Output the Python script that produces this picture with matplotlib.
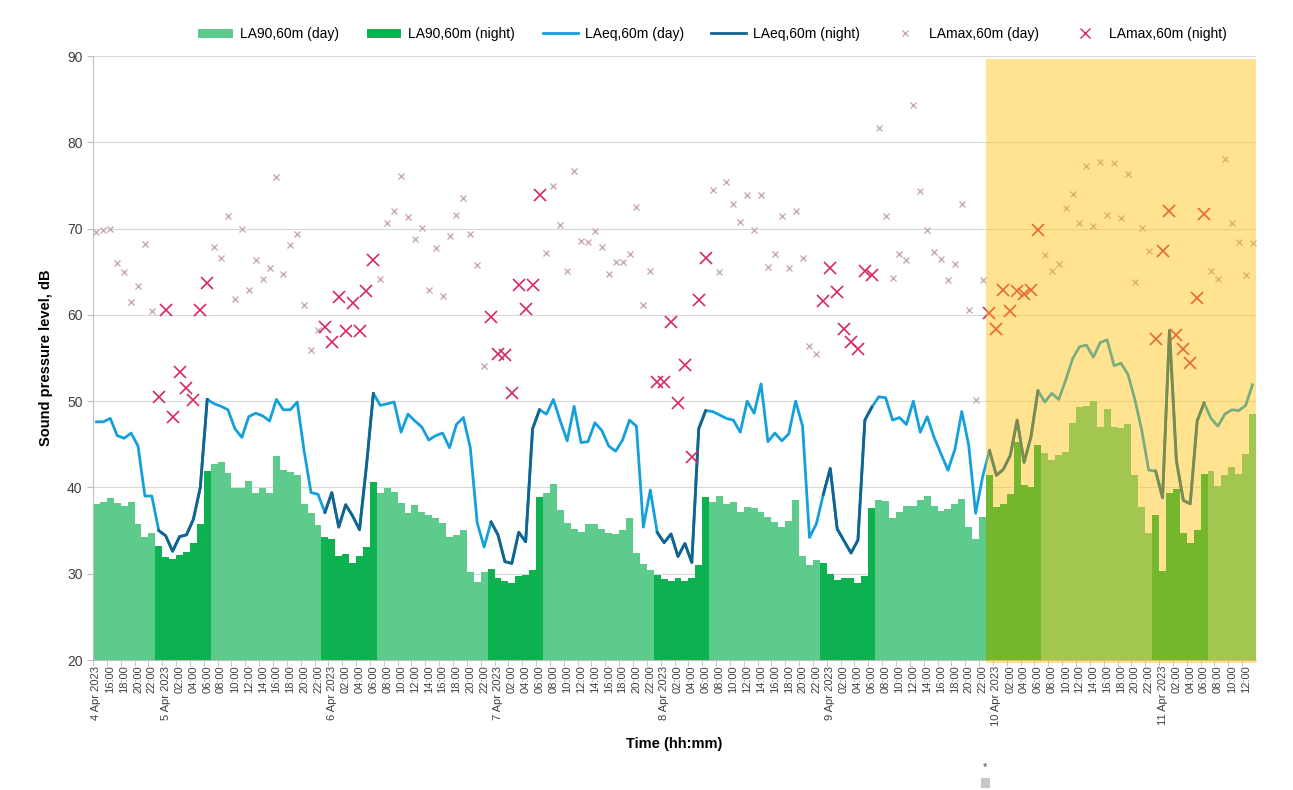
import numpy as np
import pandas as pd
import matplotlib
matplotlib.use("Agg")
import matplotlib.pyplot as plt
from matplotlib.patches import Patch, Rectangle
from matplotlib.lines import Line2D

plt.rcParams['font.family'] = ['Liberation Sans', 'DejaVu Sans']

# hourly data, 4 Apr 2023 14:00 -> 11 Apr 2023 13:00
start = '2023-04-04 14:00'

la90 = [
    38.1, 38.3, 38.8, 38.2, 37.8, 38.3, 35.8, 34.2, 34.7,
    33.2, 31.9, 31.7, 32.2, 32.5, 33.6, 35.8, 41.9,
    42.7, 42.9, 41.7, 39.9, 39.9, 40.7, 39.3, 39.9, 39.3, 43.6, 42.0, 41.8, 41.4, 38.1, 37.0, 35.6,
    34.3, 34.0, 32.1, 32.3, 31.2, 32.0, 33.1, 40.6,
    39.4, 39.9, 39.5, 38.2, 37.0, 38.0, 37.2, 36.8, 36.4, 35.9, 34.3, 34.5, 35.1, 30.2, 29.0, 30.2,
    30.5, 29.5, 29.1, 28.9, 29.7, 29.8, 30.4, 38.9,
    39.4, 40.4, 37.4, 35.9, 35.2, 34.8, 35.8, 35.8, 35.2, 34.7, 34.6, 35.1, 36.5, 32.4, 31.1, 30.4,
    29.9, 29.4, 29.2, 29.5, 29.1, 29.5, 31.0, 38.9,
    38.3, 39.0, 38.1, 38.3, 37.2, 37.7, 37.6, 37.1, 36.6, 36.0, 35.4, 36.1, 38.6, 32.1, 31.0, 31.6,
    31.2, 30.0, 29.3, 29.5, 29.5, 28.9, 29.7, 37.6,
    38.6, 38.4, 36.5, 37.2, 37.8, 37.9, 38.6, 39.0, 37.9, 37.3, 37.5, 38.1, 38.7, 35.4, 34.0, 36.6,
    41.4, 37.7, 38.1, 39.2, 45.3, 40.3, 40.1, 44.9,
    44.0, 43.2, 43.8, 44.1, 47.5, 49.3, 49.4, 50.0, 47.0, 49.1, 47.0, 46.9, 47.3, 41.4, 37.7, 34.7,
    36.8, 30.3, 39.3, 39.8, 34.7, 33.6, 35.1, 41.5,
    41.9, 40.2, 41.4, 42.4, 41.6, 43.9, 48.5,
]

laeq = [
    47.6, 47.6, 48.0, 46.0, 45.7, 46.3, 44.8, 39.0, 39.0,
    35.0, 34.4, 32.6, 34.3, 34.5, 36.3, 40.0, 50.2,
    49.7, 49.4, 49.0, 46.8, 45.8, 48.2, 48.6, 48.3, 47.7, 50.2, 49.0, 49.0, 49.9, 44.2, 39.4, 39.2,
    37.1, 39.4, 35.4, 38.0, 36.7, 35.1, 42.5, 50.9,
    49.5, 49.7, 49.9, 46.4, 48.5, 47.7, 47.0, 45.5, 46.0, 46.3, 44.6, 47.3, 48.1, 44.6, 35.9, 33.1,
    36.0, 34.5, 31.4, 31.2, 34.8, 33.7, 46.8, 49.0,
    48.5, 50.2, 47.7, 45.4, 49.4, 45.2, 45.3, 47.5, 46.6, 44.8, 44.2, 45.5, 47.8, 47.1, 35.4, 39.7,
    34.8, 33.6, 34.6, 32.0, 33.5, 31.3, 46.8, 48.9,
    48.8, 48.4, 48.0, 47.8, 46.4, 50.0, 48.6, 52.0, 45.3, 46.3, 45.4, 46.2, 50.0, 47.1, 34.2, 35.8,
    39.2, 42.2, 35.2, 33.8, 32.4, 33.9, 47.8, 49.3,
    50.5, 50.4, 47.8, 48.1, 47.3, 50.0, 46.4, 48.2, 45.8, 43.9, 42.0, 44.4, 48.8, 44.9, 37.0, 41.2,
    44.3, 41.4, 42.1, 43.7, 47.8, 42.9, 45.9, 51.2,
    49.9, 50.9, 50.2, 52.4, 54.9, 56.3, 56.5, 55.1, 56.8, 57.1, 54.1, 54.4, 53.1, 50.2, 46.6, 42.0,
    41.9, 38.8, 58.2, 43.1, 38.5, 38.1, 47.7, 49.8,
    48.0, 47.1, 48.5, 49.0, 48.9, 49.5, 51.9,
]

lamax = [
    69.6, 69.8, 69.9, 66.0, 65.0, 61.5, 63.4, 68.2, 60.4,
    50.5, 60.6, 48.2, 53.4, 51.5, 50.1, 60.6, 63.7,
    67.9, 66.6, 71.4, 61.8, 70.0, 62.9, 66.3, 64.2, 65.4, 76.0, 64.7, 68.1, 69.4, 61.2, 55.9, 58.3,
    58.6, 56.8, 62.1, 58.1, 61.4, 58.1, 62.8, 66.4,
    64.2, 70.7, 72.0, 76.1, 71.3, 68.8, 70.1, 62.9, 67.7, 62.2, 69.1, 71.6, 73.6, 69.4, 65.8, 54.1,
    59.7, 55.5, 55.3, 51.0, 63.5, 60.7, 63.5, 73.9,
    67.2, 74.9, 70.4, 65.1, 76.7, 68.6, 68.4, 69.7, 67.9, 64.7, 66.1, 66.1, 67.1, 72.5, 61.1, 65.1,
    52.2, 52.2, 59.2, 49.8, 54.2, 43.5, 61.7, 66.6,
    74.5, 65.0, 75.4, 72.8, 70.8, 73.9, 69.8, 73.9, 65.5, 67.1, 71.5, 65.4, 72.0, 66.6, 56.4, 55.5,
    61.6, 65.4, 62.6, 58.4, 56.9, 56.1, 65.1, 64.6,
    81.7, 71.4, 64.3, 67.1, 66.3, 84.3, 74.3, 69.8, 67.3, 66.5, 64.0, 65.9, 72.9, 60.6, 50.1, 64.0,
    60.2, 58.4, 62.9, 60.4, 62.8, 62.4, 62.9, 69.8,
    66.9, 65.1, 65.9, 72.4, 74.0, 70.7, 77.2, 70.3, 77.7, 71.6, 77.6, 71.2, 76.3, 63.8, 70.1, 67.4,
    57.2, 67.4, 72.0, 57.7, 56.0, 54.4, 62.0, 71.7,
    65.1, 64.2, 78.1, 70.6, 68.4, 64.6, 68.3,
]

highlight_start = '2023-04-09 23:00'   # shaded period to end of record

c_day_bar = '#5ccb8b'
c_night_bar = '#0db14f'
c_day_line = '#14a0dc'
c_night_line = '#14638f'
c_day_max = '#c8aab6'
c_night_max = '#d62a60'

times = pd.date_range(start, periods=len(la90), freq='h')
x = np.arange(len(times))
hrs = times.hour
night = (hrs >= 23) | (hrs < 7)
la90 = np.array(la90)
laeq = np.array(laeq)
lamax = np.array(lamax)

fig = plt.figure(figsize=(12.93, 7.90), dpi=100)
ax = fig.add_axes([93/1293, 1-660/790, (1256-93)/1293, (660-56)/790])

ax.bar(x[~night], la90[~night] - 20, bottom=20, width=1.0, color=c_day_bar, linewidth=0, zorder=2)
ax.bar(x[night], la90[night] - 20, bottom=20, width=1.0, color=c_night_bar, linewidth=0, zorder=2)

ax.plot(x, laeq, color=c_day_line, lw=2.0, zorder=3)
ax.plot(x, np.where(night, laeq, np.nan), color=c_night_line, lw=2.0, zorder=3)

ax.plot(x[~night], lamax[~night], 'x', color=c_day_max, ms=5, mew=1.0, zorder=4)
ax.plot(x[night], lamax[night], 'x', color=c_night_max, ms=8.5, mew=1.2, zorder=4)

# shaded period overlay
h0 = int(np.where(times == pd.Timestamp(highlight_start))[0][0])
ax.add_patch(Rectangle((h0 - 0.5, 19.6), len(x) - h0, 89.6 - 19.6, facecolor='#ffc000',
                       alpha=0.43, lw=0, zorder=6, clip_on=False))

ax.set_xlim(-0.5, len(x) - 0.5)
ax.set_ylim(20, 90)
ax.set_yticks(range(20, 91, 10))
ax.yaxis.grid(True, color='#d9d9d9', lw=0.8)
ax.set_axisbelow(True)
for s in ['top', 'right']:
    ax.spines[s].set_visible(False)
for s in ['left', 'bottom']:
    ax.spines[s].set_color('#bfbfbf')

tick_idx = x[::2]
labels = []
for i in tick_idx:
    t = times[i]
    if i == 0 or t.hour == 0:
        labels.append(f"{t.day} Apr {t.year}")
    else:
        labels.append(t.strftime('%H:%M'))
ax.set_xticks(tick_idx)
ax.set_xticklabels(labels, rotation=90, fontsize=8, color='#404040')
ax.tick_params(axis='x', length=0, pad=4)
ax.set_xticks(tick_idx - 0.5, minor=True)
ax.tick_params(axis='x', which='minor', length=4, color='#bfbfbf')
ax.tick_params(axis='y', labelsize=10, length=4, color='#bfbfbf', labelcolor='#404040')

ax.set_ylabel('Sound pressure level, dB', fontsize=10.5, fontweight='bold', labelpad=10)
ax.set_xlabel('Time (hh:mm)', fontsize=10.5, fontweight='bold', labelpad=8)

handles = [
    Patch(facecolor=c_day_bar, lw=0),
    Patch(facecolor=c_night_bar, lw=0),
    Line2D([], [], color=c_day_line, lw=2),
    Line2D([], [], color=c_night_line, lw=2),
    Line2D([], [], ls='none', marker='x', color=c_day_max, ms=5),
    Line2D([], [], ls='none', marker='x', color=c_night_max, ms=7),
]
names = ['LA90,60m (day)', 'LA90,60m (night)', 'LAeq,60m (day)', 'LAeq,60m (night)',
         'LAmax,60m (day)', 'LAmax,60m (night)']
fig.legend(handles, names, loc='center', bbox_to_anchor=(0.551, 1-34/790), ncol=6,
           frameon=False, fontsize=10, handlelength=2.5, handleheight=0.6,
           columnspacing=2.0, handletextpad=0.5)

fig.text(985/1293, 1-767/790, '*', fontsize=8, color='#404040', ha='center', va='center')
fig.patches.append(Rectangle((981/1293, 1-788/790), 9/1293, 10/790, transform=fig.transFigure,
                             facecolor='#c8c8c8', lw=0))

fig.savefig('out.png', dpi=100)
